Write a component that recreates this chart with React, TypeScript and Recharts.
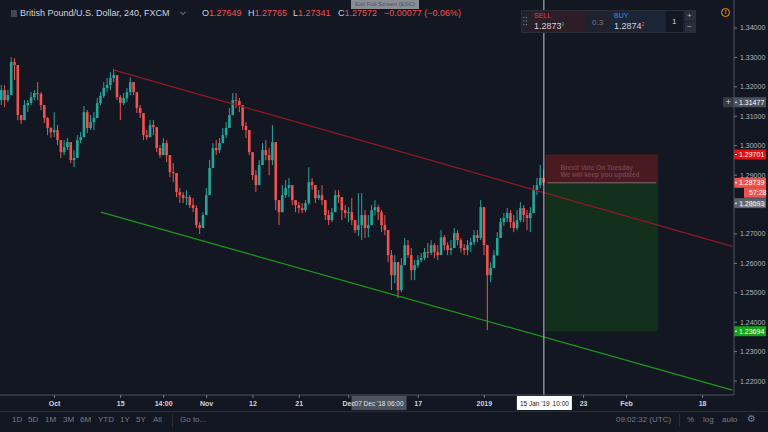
import {
  ComposedChart,
  Bar,
  XAxis,
  YAxis,
  ReferenceLine,
  ReferenceArea,
} from "recharts";

const BG = "#131722";
const UP = "#26a69a";
const DOWN = "#ef5350";
const FONT = '"Liberation Sans", Arial, sans-serif';

// 12h candles, GBP/USD (FXCM), late Sep 2018 -> 15 Jan 2019
const closes = [
  1.3189, 1.3155, 1.3172, 1.3284, 1.3274, 1.3104, 1.3087, 1.3138, 1.3145, 1.3165,
  1.3179, 1.3176, 1.3138, 1.3094, 1.306, 1.3046, 1.3053, 1.3019, 1.2978, 1.2995,
  1.3012, 1.2951, 1.2958, 1.3019, 1.3029, 1.3114, 1.306, 1.308, 1.3094, 1.3145,
  1.3169, 1.3196, 1.3206, 1.323, 1.324, 1.3165, 1.3145, 1.3162, 1.3182, 1.3216,
  1.3182, 1.3128, 1.3111, 1.3036, 1.3029, 1.307, 1.3063, 1.2992, 1.2968, 1.3009,
  1.2968, 1.291, 1.2907, 1.2842, 1.2832, 1.2822, 1.2825, 1.2798, 1.2788, 1.273,
  1.272, 1.2764, 1.2832, 1.2924, 1.2992, 1.2985, 1.3009, 1.3036, 1.306, 1.3104,
  1.3155, 1.3152, 1.3138, 1.3067, 1.3053, 1.2978, 1.29, 1.2866, 1.2934, 1.2985,
  1.2968, 1.2951, 1.3012, 1.2815, 1.2774, 1.2832, 1.2856, 1.2866, 1.2815, 1.2798,
  1.2788, 1.2781, 1.2805, 1.2876, 1.2866, 1.2822, 1.2832, 1.2815, 1.2764, 1.2747,
  1.2774, 1.2832, 1.2825, 1.2781, 1.2771, 1.2774, 1.2747, 1.2713, 1.273, 1.2764,
  1.272, 1.273, 1.2781, 1.2791, 1.2774, 1.273, 1.2713, 1.2628, 1.256, 1.2604,
  1.2509, 1.2594, 1.2662, 1.2628, 1.2577, 1.2594, 1.2611, 1.2618, 1.2638, 1.2635,
  1.2662, 1.2638, 1.2628, 1.2689, 1.2662, 1.2645, 1.2652, 1.2703, 1.2679, 1.2652,
  1.2645, 1.2662, 1.2672, 1.2696, 1.2686, 1.2791, 1.2662, 1.256, 1.2584, 1.2628,
  1.2686, 1.274, 1.2754, 1.2771, 1.274, 1.272, 1.2747, 1.2788, 1.2764, 1.2754,
  1.2771, 1.2849, 1.2866, 1.289, 1.28739,
];
const highs = [
  1.3206, 1.3206, 1.3189, 1.3301, 1.3298, 1.3274, 1.3104, 1.3155, 1.3155, 1.3182,
  1.3189, 1.3216, 1.3182, 1.3138, 1.3097, 1.3063, 1.3114, 1.307, 1.3019, 1.3019,
  1.3026, 1.3002, 1.2985, 1.3036, 1.3046, 1.3135, 1.3121, 1.3104, 1.3114, 1.3162,
  1.3182, 1.3216, 1.323, 1.325, 1.3261, 1.324, 1.3172, 1.3179, 1.3196, 1.3233,
  1.3206, 1.3172, 1.3138, 1.3104, 1.3053, 1.3087, 1.3087, 1.3053, 1.3002, 1.3026,
  1.3019, 1.2958, 1.2941, 1.29, 1.2856, 1.2842, 1.2849, 1.2832, 1.2822, 1.2798,
  1.274, 1.2774, 1.2856, 1.2951, 1.3009, 1.3019, 1.3026, 1.306, 1.308, 1.3128,
  1.3179, 1.3179, 1.3162, 1.3138, 1.308, 1.3026, 1.2958, 1.2917, 1.2951, 1.3009,
  1.3019, 1.2992, 1.307, 1.3012, 1.2815, 1.2866, 1.2883, 1.289, 1.2866, 1.2815,
  1.2808, 1.2805, 1.2815, 1.2927, 1.289, 1.2866, 1.2849, 1.2866, 1.2798, 1.2781,
  1.2788, 1.2849, 1.2849, 1.2825, 1.2798, 1.2791, 1.2822, 1.2747, 1.2839, 1.2839,
  1.2781, 1.2764, 1.2798, 1.2815, 1.2798, 1.2781, 1.2764, 1.2713, 1.2645, 1.2628,
  1.2604, 1.2618, 1.2686, 1.2679, 1.2652, 1.2611, 1.2628, 1.2635, 1.2652, 1.2669,
  1.2679, 1.2669, 1.2662, 1.2713, 1.2696, 1.2672, 1.2679, 1.272, 1.2713, 1.2686,
  1.2666, 1.2679, 1.2686, 1.2713, 1.2713, 1.2815, 1.2791, 1.2662, 1.2604, 1.2645,
  1.2706, 1.2754, 1.2771, 1.2788, 1.2781, 1.2764, 1.2781, 1.2808, 1.2798, 1.2781,
  1.2791, 1.2866, 1.289, 1.2934, 1.2917,
];
const lows = [
  1.3138, 1.3131, 1.3148, 1.3172, 1.3223, 1.3087, 1.3074, 1.3087, 1.3114, 1.3138,
  1.3155, 1.3155, 1.3121, 1.3077, 1.3036, 1.3026, 1.3029, 1.3002, 1.2958, 1.2968,
  1.2985, 1.2941, 1.2927, 1.2958, 1.3009, 1.3036, 1.3043, 1.3053, 1.3053, 1.3094,
  1.3138, 1.3162, 1.3182, 1.3189, 1.3216, 1.3155, 1.3087, 1.3138, 1.3148, 1.3172,
  1.3172, 1.3111, 1.3094, 1.3019, 1.3019, 1.3029, 1.3036, 1.2978, 1.2958, 1.2968,
  1.2944, 1.2893, 1.2876, 1.2825, 1.2805, 1.2805, 1.2798, 1.2788, 1.2774, 1.272,
  1.27, 1.272, 1.2764, 1.2832, 1.2924, 1.2968, 1.2975, 1.3012, 1.3026, 1.306,
  1.3104, 1.3128, 1.3114, 1.3053, 1.3026, 1.2968, 1.2883, 1.2842, 1.2866, 1.2934,
  1.2951, 1.29, 1.2934, 1.2781, 1.273, 1.2774, 1.2822, 1.2825, 1.2798, 1.2774,
  1.2771, 1.2771, 1.2774, 1.2798, 1.2849, 1.2805, 1.2815, 1.2798, 1.2747, 1.273,
  1.274, 1.2774, 1.2805, 1.2747, 1.2754, 1.274, 1.273, 1.2703, 1.2693, 1.2679,
  1.2686, 1.2689, 1.273, 1.2764, 1.2747, 1.2706, 1.2696, 1.2604, 1.2509, 1.2533,
  1.2482, 1.2502, 1.2594, 1.2618, 1.2543, 1.2543, 1.2584, 1.2604, 1.2611, 1.2618,
  1.2628, 1.2618, 1.2611, 1.2628, 1.2645, 1.2628, 1.2628, 1.2652, 1.2662, 1.2638,
  1.2628, 1.2628, 1.2638, 1.2662, 1.2672, 1.2679, 1.2628, 1.2373, 1.2536, 1.2584,
  1.2625, 1.2686, 1.2727, 1.274, 1.272, 1.2706, 1.2713, 1.274, 1.274, 1.2713,
  1.2706, 1.2771, 1.2832, 1.2856, 1.2863,
];
const firstOpen = 1.3155;

// empty slots after the last candle keep the future space on the right
const slotCount = 222;

const priceTicks = [1.22, 1.23, 1.24, 1.25, 1.26, 1.27, 1.28, 1.29, 1.3, 1.31, 1.32, 1.33, 1.34];
const timeTickSlots = [16, 36, 49, 62, 76, 90, 105, 126, 146, 176, 189, 212];
const timeTickLabels = ["Oct", "15", "14:00", "Nov", "12", "21", "Dec", "17", "2019", "23", "Feb", "18"];

const redTrend = [{ x: 34, y: 1.3257 }, { x: 221, y: 1.2658 }];
const greenTrend = [{ x: 30, y: 1.2774 }, { x: 221, y: 1.2169 }];

const positionStart = 165;
const positionEnd = 198;
const entryPrice = 1.28739;
const stopPrice = 1.29701;
const targetPrice = 1.23694;
const noteLines = ["Brexit Vote On Tuesday", "We will keep you updated"];

const crosshairSlot = 164;
const crosshairPrice = 1.31477;
const crosshairTime = ["15 Jan '19", "10:00"];
const markerSlot = 114;
const markerTime = ["07 Dec '18", "06:00"];
const bidPrice = 1.28693;
const countdown = "57:28";

const chartData = Array.from({ length: slotCount }, (_, i) => {
  if (i >= closes.length) return { t: i, range: null };
  const o = i === 0 ? firstOpen : closes[i - 1];
  const c = closes[i];
  const h = Math.max(highs[i], o, c);
  const l = Math.min(lows[i], o, c);
  return { t: i, o, c, h, l, range: [l, h] };
});

function Candle(props: any) {
  const { x, y, width, height, payload } = props;
  if (!payload || payload.h == null) return null;
  const { o, c, h, l } = payload;
  const top = Math.min(y, y + height);
  const span = Math.abs(height);
  const py = (v: number) => (h === l ? top : top + ((h - v) / (h - l)) * span);
  const color = c >= o ? UP : DOWN;
  const bodyTop = py(Math.max(o, c));
  const bodyBottom = py(Math.min(o, c));
  const cx = x + width / 2;
  return (
    <g>
      <line x1={cx} x2={cx} y1={top} y2={top + span} stroke={color} strokeWidth={1} />
      <rect x={x} y={bodyTop} width={width} height={Math.max(1, bodyBottom - bodyTop)} fill={color} />
    </g>
  );
}

function TimeTick({ x, y, payload }: any) {
  const k = timeTickSlots.indexOf(payload.value);
  if (k < 0) return null;
  return (
    <g>
      <line x1={x} x2={x} y1={y - 6} y2={y - 3} stroke="#787b86" />
      <text x={x} y={y + 5} textAnchor="middle" fontSize={7} fontWeight={700} fill="#d1d4dc" fontFamily={FONT}>
        {timeTickLabels[k]}
      </text>
    </g>
  );
}

function PriceTag({ viewBox, text, bg, color = "#ffffff", dy = 0, inset = 0 }: any) {
  const x = viewBox.x + viewBox.width;
  const y = viewBox.y + dy;
  return (
    <g>
      <rect x={x + inset} y={y - 5} width={32 - inset} height={10} fill={bg} />
      {inset === 0 && <line x1={x + 1} x2={x + 3} y1={y} y2={y} stroke={color} />}
      <text x={x + 5 + inset} y={y + 2.5} fontSize={7} fill={color} fontFamily={FONT}>
        {text}
      </text>
    </g>
  );
}

function TimeTag({ viewBox, lines, bg, color }: any) {
  const x = viewBox.x;
  const y = viewBox.y + viewBox.height;
  return (
    <g>
      <rect x={x - 27} y={y + 1} width={55} height={14} fill={bg} />
      <text x={x - 24} y={y + 10.5} fontSize={6.5} fill={color} fontFamily={FONT}>
        {lines[0]}
      </text>
      <text x={x + 25} y={y + 10.5} fontSize={6.5} fill={color} textAnchor="end" fontFamily={FONT}>
        {lines[1]}
      </text>
    </g>
  );
}

function NoteLabel({ viewBox }: any) {
  return (
    <text x={viewBox.x + 15} y={viewBox.y + 16} fontSize={6.5} fontWeight={700} fill="#74404a" fontFamily={FONT}>
      <tspan x={viewBox.x + 15}>{noteLines[0]}</tspan>
      <tspan x={viewBox.x + 15} dy={7}>{noteLines[1]}</tspan>
    </text>
  );
}

const abs = (left: number, top: number, extra: any = {}) => ({
  position: "absolute" as const,
  left,
  top,
  whiteSpace: "nowrap" as const,
  lineHeight: 1,
  ...extra,
});

const ohlc = [
  { k: "O", v: "1.27649", left: 202 },
  { k: "H", v: "1.27765", left: 248 },
  { k: "L", v: "1.27341", left: 293 },
  { k: "C", v: "1.27572", left: 338 },
];

const ranges = [
  { t: "1D", left: 12 },
  { t: "5D", left: 28 },
  { t: "1M", left: 45 },
  { t: "3M", left: 63 },
  { t: "6M", left: 80 },
  { t: "YTD", left: 98 },
  { t: "1Y", left: 120 },
  { t: "5Y", left: 136 },
  { t: "All", left: 153 },
];

export default function App() {
  return (
    <div
      style={{
        position: "fixed",
        left: 0,
        top: 0,
        width: 768,
        height: 432,
        background: BG,
        overflow: "hidden",
        fontFamily: FONT,
      }}
    >
      <ComposedChart
        width={768}
        height={412}
        data={chartData}
        margin={{ top: 0, right: 0, bottom: 0, left: 0 }}
      >
        <XAxis
          dataKey="t"
          type="category"
          height={17}
          interval={0}
          tickSize={4}
          tickMargin={2}
          tickLine={false}
          axisLine={{ stroke: "#50535e" }}
          tick={<TimeTick />}
        />
        <YAxis
          orientation="right"
          type="number"
          width={34}
          domain={[1.21526, 1.34952]}
          allowDataOverflow
          ticks={priceTicks}
          tickFormatter={(v) => v.toFixed(5)}
          tickSize={3}
          tickMargin={3}
          tick={{ fontSize: 7, fill: "#b2b5be", fontFamily: FONT }}
          tickLine={{ stroke: "#787b86" }}
          axisLine={{ stroke: "#50535e" }}
        />

        <Bar dataKey="range" barSize={2.6} shape={<Candle />} isAnimationActive={false} />

        {/* short position: stop / target zones */}
        <ReferenceArea
          x1={positionStart}
          x2={positionEnd}
          y1={entryPrice}
          y2={stopPrice}
          fill="#4a1a21"
          fillOpacity={1}
          stroke="none"
          label={(p: any) => <NoteLabel viewBox={p.viewBox} />}
        />
        <ReferenceArea
          x1={positionStart}
          x2={positionEnd}
          y1={targetPrice}
          y2={entryPrice}
          fill="#13301d"
          fillOpacity={1}
          stroke="none"
        />
        <ReferenceLine
          segment={[{ x: positionStart, y: entryPrice }, { x: positionEnd, y: entryPrice }]}
          stroke="#8a6a6f"
          strokeWidth={1}
        />

        {/* channel */}
        <ReferenceLine segment={redTrend} stroke="#931a22" strokeWidth={1.2} ifOverflow="visible" />
        <ReferenceLine segment={greenTrend} stroke="#1c9a1c" strokeWidth={1.2} ifOverflow="visible" />

        {/* crosshair */}
        <ReferenceLine
          x={crosshairSlot}
          stroke="#c3c6ce"
          strokeWidth={1}
          label={(p: any) => <TimeTag viewBox={p.viewBox} lines={crosshairTime} bg="#ffffff" color="#131722" />}
        />
        <ReferenceLine
          x={markerSlot}
          stroke="none"
          label={(p: any) => <TimeTag viewBox={p.viewBox} lines={markerTime} bg="#4c525e" color="#e0e3eb" />}
        />

        {/* price scale tags */}
        <ReferenceLine
          y={crosshairPrice}
          stroke="none"
          label={(p: any) => (
            <g>
              <rect x={p.viewBox.x + p.viewBox.width - 11} y={p.viewBox.y - 5} width={11} height={10} fill="#363a45" />
              <text x={p.viewBox.x + p.viewBox.width - 5.5} y={p.viewBox.y + 3} textAnchor="middle" fontSize={9} fill="#d1d4dc" fontFamily={FONT}>
                +
              </text>
              <PriceTag viewBox={p.viewBox} text={crosshairPrice.toFixed(5)} bg="#4c525e" />
            </g>
          )}
        />
        <ReferenceLine
          y={stopPrice}
          stroke="none"
          label={(p: any) => <PriceTag viewBox={p.viewBox} text={stopPrice.toFixed(5)} bg="#e50f12" />}
        />
        <ReferenceLine
          y={bidPrice}
          stroke="none"
          label={(p: any) => <PriceTag viewBox={p.viewBox} text={bidPrice.toFixed(5)} bg="#5d606b" dy={19} />}
        />
        <ReferenceLine
          y={entryPrice}
          stroke="none"
          label={(p: any) => (
            <g>
              <PriceTag viewBox={p.viewBox} text={entryPrice.toFixed(5)} bg="#ef5350" />
              <PriceTag viewBox={p.viewBox} text={countdown} bg="#ef5350" dy={10} inset={10} />
            </g>
          )}
        />
        <ReferenceLine
          y={targetPrice}
          stroke="none"
          label={(p: any) => <PriceTag viewBox={p.viewBox} text={targetPrice.toFixed(5)} bg="#19a319" />}
        />
      </ComposedChart>

      {/* legend */}
      <div style={abs(11, 10, { width: 6, height: 7, background: "#434651" })} />
      <div style={abs(20, 9, { fontSize: 9, color: "#d1d4dc" })}>British Pound/U.S. Dollar, 240, FXCM</div>
      <svg style={abs(180, 11)} width={6} height={5}>
        <polyline points="0.5,1 3,3.5 5.5,1" fill="none" stroke="#b2b5be" strokeWidth={0.8} />
      </svg>
      {ohlc.map((g) => (
        <div key={g.k} style={abs(g.left, 9, { fontSize: 9, color: "#d1d4dc" })}>
          {g.k}
          <span style={{ color: DOWN }}>{g.v}</span>
        </div>
      ))}
      <div style={abs(384, 9, { fontSize: 9, color: DOWN })}>−0.00077 (−0.06%)</div>
      <div
        style={abs(351, 0, {
          width: 68,
          height: 9,
          background: "rgba(178,181,190,0.75)",
          color: "#50535e",
          fontSize: 6,
          paddingLeft: 4,
          boxSizing: "border-box",
          lineHeight: "8px",
        })}
      >
        Exit Full Screen (ESC)
      </div>

      {/* trading panel */}
      <div
        style={abs(521, 10, {
          width: 175,
          height: 23,
          background: "#1e222d",
          border: "1px solid #2a2e39",
          boxSizing: "border-box",
        })}
      />
      <svg style={abs(523, 16)} width={5} height={11}>
        {[0, 1, 2].map((r) =>
          [0, 1].map((c) => <circle key={`${r}-${c}`} cx={1 + c * 2.5} cy={1.5 + r * 3.5} r={0.7} fill="#787b86" />)
        )}
      </svg>
      <div style={abs(530, 11, { width: 56, height: 21, background: "#2c1d26" })} />
      <div style={abs(534, 12, { fontSize: 7, color: "#f23645" })}>SELL</div>
      <div style={abs(534, 22, { fontSize: 9, color: "#d1d4dc" })}>
        1.2873<span style={{ fontSize: 5, color: UP, verticalAlign: 3 }}>9</span>
      </div>
      <div style={abs(592, 19, { fontSize: 8, color: "#787b86" })}>0.3</div>
      <div style={abs(609, 11, { width: 56, height: 21, background: "#1c2535" })} />
      <div style={abs(614, 12, { fontSize: 7, color: "#2196f3" })}>BUY</div>
      <div style={abs(614, 22, { fontSize: 9, color: "#d1d4dc" })}>
        1.2874<span style={{ fontSize: 5, color: DOWN, verticalAlign: 3 }}>2</span>
      </div>
      <div style={abs(666, 11, { width: 17, height: 21, background: "#131722" })} />
      <div style={abs(672, 18, { fontSize: 8, color: "#d1d4dc" })}>1</div>
      <div style={abs(685, 11, { width: 10, height: 10, background: "#2a2e39" })} />
      <div style={abs(685, 22, { width: 10, height: 10, background: "#2a2e39" })} />
      <div style={abs(687, 12, { fontSize: 8, color: "#b2b5be" })}>+</div>
      <div style={abs(687, 23, { fontSize: 8, color: "#b2b5be" })}>−</div>
      <div
        style={abs(721, 8, {
          width: 9,
          height: 9,
          borderRadius: "50%",
          border: "1px solid #ff9800",
          boxSizing: "border-box",
          color: "#ff9800",
          fontSize: 6,
          fontWeight: 700,
          textAlign: "center",
          lineHeight: "7px",
        })}
      >
        !
      </div>

      {/* bottom toolbar */}
      <div style={abs(0, 411, { width: 768, height: 1, background: "#2a2e39" })} />
      {ranges.map((r) => (
        <div key={r.t} style={abs(r.left, 416, { fontSize: 8, color: "#787b86" })}>
          {r.t}
        </div>
      ))}
      <div style={abs(172, 414, { width: 1, height: 13, background: "#2a2e39" })} />
      <div style={abs(180, 416, { fontSize: 8, color: "#787b86" })}>Go to...</div>
      <div style={abs(616, 416, { fontSize: 8, color: "#787b86" })}>09:02:32 (UTC)</div>
      <div style={abs(679, 414, { width: 1, height: 13, background: "#2a2e39" })} />
      <div style={abs(687, 416, { fontSize: 8, color: "#787b86" })}>%</div>
      <div style={abs(703, 416, { fontSize: 8, color: "#787b86" })}>log</div>
      <div style={abs(722, 416, { fontSize: 8, color: "#787b86" })}>auto</div>
      <div style={abs(747, 414, { fontSize: 10, color: "#787b86", fontFamily: "DejaVu Sans" })}>⚙</div>
    </div>
  );
}
